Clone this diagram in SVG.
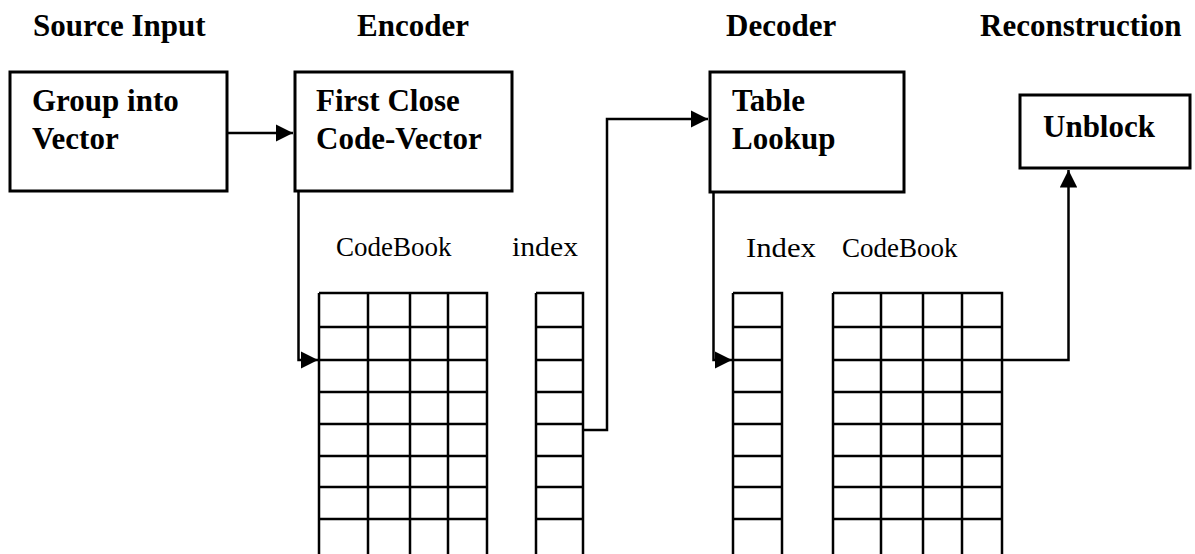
<svg xmlns="http://www.w3.org/2000/svg" width="1195" height="554" viewBox="0 0 1195 554">
<style>
.bg{fill:#fff}
.hdr,.lbl{font-family:"Liberation Serif","Times New Roman",serif;font-weight:bold;font-size:31px;fill:#000}
.cap{font-family:"Liberation Serif","Times New Roman",serif;font-size:27px;fill:#000}
.box{fill:#fff;stroke:#000;stroke-width:3}
.grid{fill:none;stroke:#000;stroke-width:2.5}
.conn{fill:none;stroke:#000;stroke-width:2.5}
</style>
<defs>
<marker id="arr" viewBox="0 0 10 10" refX="10" refY="5" markerWidth="7" markerHeight="7" markerUnits="strokeWidth" orient="auto">
<path d="M0,0 L10,5 L0,10 Z" fill="#000"/>
</marker>
</defs>
<rect class="bg" x="0" y="0" width="1195" height="554"/>

<g id="headers">
<text class="hdr" x="33" y="36">Source Input</text>
<text class="hdr" x="357" y="36">Encoder</text>
<text class="hdr" x="726" y="36">Decoder</text>
<text class="hdr" x="980" y="36">Reconstruction</text>
</g>

<g id="group-into-vector">
<rect class="box" x="10" y="72" width="217" height="119"/>
<text class="lbl" x="32" y="111">Group into</text>
<text class="lbl" x="32" y="149">Vector</text>
</g>

<g id="first-close-code-vector">
<rect class="box" x="295" y="72" width="217" height="119"/>
<text class="lbl" x="316" y="111">First Close</text>
<text class="lbl" x="316" y="149">Code-Vector</text>
</g>

<g id="table-lookup">
<rect class="box" x="710" y="72" width="194" height="120"/>
<text class="lbl" x="732" y="111">Table</text>
<text class="lbl" x="732" y="149">Lookup</text>
</g>

<g id="unblock">
<rect class="box" x="1020" y="95" width="170" height="73"/>
<text class="lbl" x="1043" y="137">Unblock</text>
</g>

<g id="encoder-codebook">
<text class="cap" x="336" y="256">CodeBook</text>
<path class="grid" d="M319,293 H487 V560 M319,293 V560 M368,293 V560 M410,293 V560 M448,293 V560 M319,327 H487 M319,360 H487 M319,392 H487 M319,424 H487 M319,456 H487 M319,487 H487 M319,519 H487"/>
</g>

<g id="encoder-index">
<text class="cap" x="512" y="256" textLength="66" lengthAdjust="spacingAndGlyphs">index</text>
<path class="grid" d="M536,293 H583 V560 M536,293 V560 M536,327 H583 M536,360 H583 M536,392 H583 M536,424 H583 M536,456 H583 M536,487 H583 M536,519 H583"/>
</g>

<g id="decoder-index">
<text class="cap" x="746" y="257" textLength="70" lengthAdjust="spacingAndGlyphs">Index</text>
<path class="grid" d="M733,293 H782 V560 M733,293 V560 M733,327 H782 M733,360 H782 M733,392 H782 M733,424 H782 M733,456 H782 M733,487 H782 M733,519 H782"/>
</g>

<g id="decoder-codebook">
<text class="cap" x="842" y="257">CodeBook</text>
<path class="grid" d="M833,293 H1002 V560 M833,293 V560 M881,293 V560 M923,293 V560 M962,293 V560 M833,327 H1002 M833,360 H1002 M833,392 H1002 M833,424 H1002 M833,456 H1002 M833,487 H1002 M833,519 H1002"/>
</g>

<g id="connectors">
<path class="conn" d="M227,133 H293" marker-end="url(#arr)"/>
<path class="conn" d="M298.5,191 V360 H318" marker-end="url(#arr)"/>
<path class="conn" d="M583,430 H607 V119 H708" marker-end="url(#arr)"/>
<path class="conn" d="M713.5,192 V360 H732" marker-end="url(#arr)"/>
<path class="conn" d="M1002,360 H1068.5 V170" marker-end="url(#arr)"/>
</g>
</svg>
